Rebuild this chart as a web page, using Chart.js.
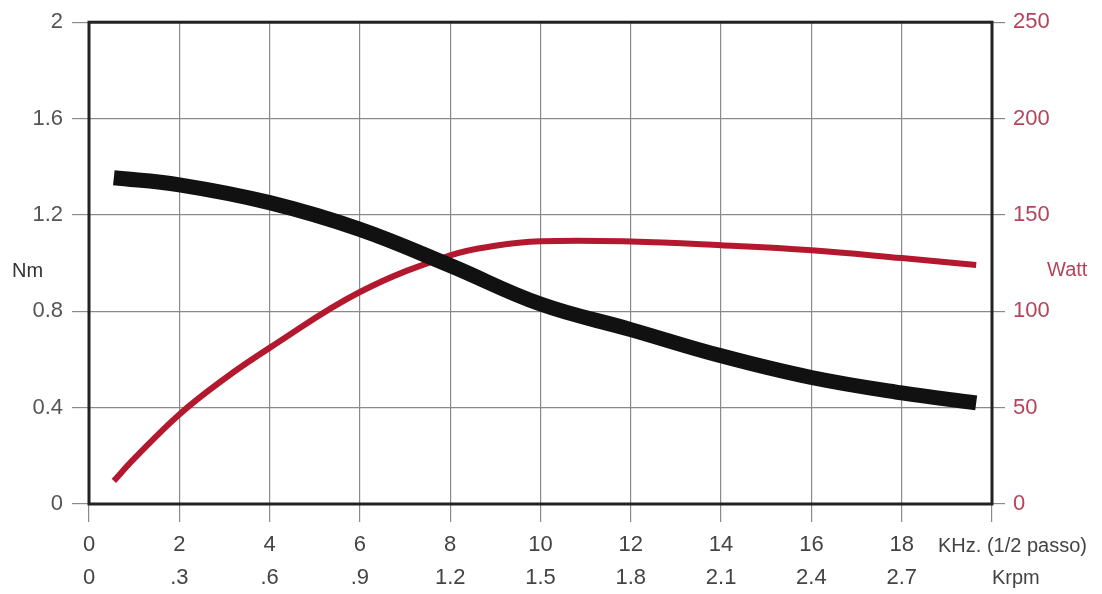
<!DOCTYPE html>
<html>
<head>
<meta charset="utf-8">
<script src="https://cdn.jsdelivr.net/npm/chart.js@4.4.1/dist/chart.umd.min.js"></script>
<style>
    html, body { margin: 0; padding: 0; background: #fff; }
    #wrap { width: 1102px; height: 594px; }
</style>
</head>
<body>
<div id="wrap"><canvas id="motorChart" width="1102" height="594"></canvas></div>
<script>
// Data
const torqueX = [0.55, 2, 4, 6, 8, 10, 12, 14, 16, 18, 19.65];
const torqueNm = [1.354, 1.325, 1.251, 1.14, 0.99, 0.83, 0.724, 0.615, 0.525, 0.461, 0.42];

const powerX = [0.55, 1, 2, 3, 4, 6, 8, 9, 10, 12, 14, 16, 18, 19.65];
const powerWatt = [12, 23.5, 46.5, 65, 81, 110, 129, 134, 136.3, 136.2, 134.3, 131.7, 127.6, 124];

const nmTicks = ['0', '0.4', '0.8', '1.2', '1.6', '2'];
const wattTicks = ['0', '50', '100', '150', '200', '250'];
const khzTicks = ['0', '2', '4', '6', '8', '10', '12', '14', '16', '18'];
const krpmTicks = ['0', '.3', '.6', '.9', '1.2', '1.5', '1.8', '2.1', '2.4', '2.7'];

const FONT = '"Liberation Sans", Arial, sans-serif';
const GRID = '#8a8a8a';
const RED = '#b3182e';
const RED_TEXT = '#b5435a';

const toPoints = (xs, ys) => xs.map((x, i) => ({ x: x, y: ys[i] }));

// frame round the plot + axis unit labels
const extras = {
    id: 'extras',
    beforeDatasetsDraw(chart) {
        const { ctx, chartArea: a } = chart;
        ctx.save();
        ctx.strokeStyle = '#222';
        ctx.lineWidth = 3;
        ctx.strokeRect(a.left, a.top, a.right - a.left, a.bottom - a.top);
        ctx.restore();
    },
    afterDraw(chart) {
        const { ctx } = chart;
        ctx.save();
        ctx.textBaseline = 'middle';
        ctx.textAlign = 'left';
        ctx.font = '20px ' + FONT;
        ctx.fillStyle = '#333';
        ctx.fillText('Nm', 12, 271);
        ctx.fillStyle = RED_TEXT;
        ctx.fillText('Watt', 1047, 270);
        ctx.fillStyle = '#444';
        ctx.font = '20px ' + FONT;
        ctx.fillText('KHz. (1/2 passo)', 938, 546);
        ctx.fillText('Krpm', 992, 578);
        ctx.restore();
    }
};

const ctx = document.getElementById('motorChart').getContext('2d');
const motorChart = new Chart(ctx, {
    type: 'line',
    data: {
        datasets: [{
            label: 'Nm',
            data: toPoints(torqueX, torqueNm),
            yAxisID: 'y',
            borderColor: '#111',
            borderWidth: 15,
            borderCapStyle: 'butt',
            pointRadius: 0,
            tension: 0.4
        }, {
            label: 'Watt',
            data: toPoints(powerX, powerWatt),
            yAxisID: 'y1',
            borderColor: RED,
            borderWidth: 6,
            borderCapStyle: 'butt',
            pointRadius: 0,
            tension: 0.4
        }]
    },
    options: {
        responsive: false,
        animation: false,
        layout: { padding: { top: 18, left: 0, right: 0, bottom: 0 } },
        plugins: {
            legend: { display: false },
            tooltip: { enabled: false }
        },
        scales: {
            x: {
                type: 'linear',
                min: 0,
                max: 20,
                afterFit: (s) => { s.height = 90; },
                afterBuildTicks: (s) => {
                    s.ticks = [0, 2, 4, 6, 8, 10, 12, 14, 16, 18, 20].map(v => ({ value: v }));
                },
                grid: { color: GRID, lineWidth: 1.2, tickLength: 18, tickColor: GRID },
                border: { display: false },
                ticks: {
                    color: '#444',
                    font: { family: FONT, size: 22, lineHeight: 1.48 },
                    padding: 7,
                    maxRotation: 0,
                    autoSkip: false,
                    callback: (v, i) => i < khzTicks.length ? [khzTicks[i], krpmTicks[i]] : ''
                }
            },
            y: {
                position: 'left',
                min: 0,
                max: 2,
                afterFit: (s) => { s.width = 89; },
                afterBuildTicks: (s) => {
                    s.ticks = [0, 0.4, 0.8, 1.2, 1.6, 2].map(v => ({ value: v }));
                },
                grid: { color: GRID, lineWidth: 1.2, tickLength: 17, tickColor: GRID },
                border: { display: false },
                ticks: {
                    color: '#555',
                    font: { family: FONT, size: 22 },
                    padding: 9,
                    callback: (v, i) => nmTicks[i]
                }
            },
            y1: {
                position: 'right',
                min: 0,
                max: 250,
                afterFit: (s) => { s.width = 110; },
                afterBuildTicks: (s) => {
                    s.ticks = [0, 50, 100, 150, 200, 250].map(v => ({ value: v }));
                },
                grid: { drawOnChartArea: false, color: GRID, lineWidth: 1.2, tickLength: 13, tickColor: GRID },
                border: { display: false },
                ticks: {
                    color: RED_TEXT,
                    font: { family: FONT, size: 22 },
                    padding: 8,
                    callback: (v, i) => wattTicks[i]
                }
            }
        }
    },
    plugins: [extras]
});
</script>
</body>
</html>
